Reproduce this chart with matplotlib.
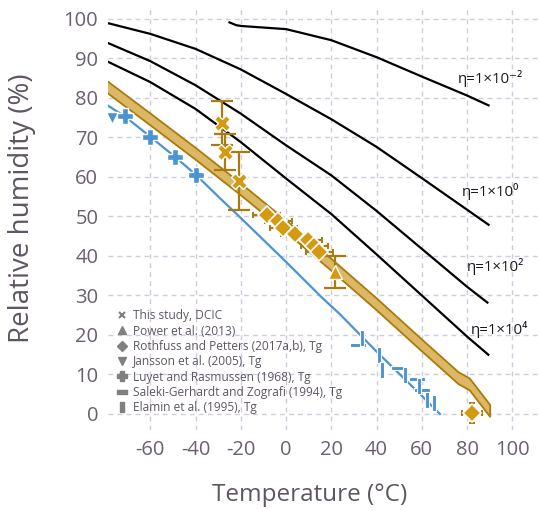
import numpy as np
import matplotlib.pyplot as plt
from matplotlib.lines import Line2D

plt.rcParams['font.family'] = ['Open Sans', 'DejaVu Sans']
plt.rcParams['axes.unicode_minus'] = False

# viscosity isopleths (black lines)
eta_m2_T = [-25, -22, -20, 0, 20, 40, 60, 80, 89.5]
eta_m2_RH = [99.1, 98.4, 98.2, 97.4, 94.6, 90.3, 85.4, 80.6, 78.1]
eta_0_T = [-80, -60, -40, -20, 0, 20, 40, 60, 80, 89.5]
eta_0_RH = [99.1, 96.2, 92.4, 87.2, 81.0, 74.6, 67.6, 59.7, 51.7, 47.9]
eta_2_T = [-80, -60, -40, -20, 0, 20, 40, 60, 80, 89]
eta_2_RH = [94.2, 89.3, 83.2, 76.0, 68.0, 60.4, 51.4, 41.8, 32.2, 28.2]
eta_4_T = [-80, -60, -40, -20, 0, 20, 40, 60, 80, 89.4]
eta_4_RH = [89.5, 84.0, 77.2, 68.8, 59.6, 50.6, 40.4, 30.0, 19.6, 15.0]

# glass transition band (centre line)
band_T = [-80, -60, -40, -20, 0, 20, 40, 60, 76, 81, 90]
band_RH = [83.2, 74.6, 65.9, 56.9, 47.5, 37.8, 27.8, 17.4, 9.2, 7.6, 0.9]
band_half = 1.5

# literature Tg line (blue)
blue_T = [-80, -71.2, -60.1, -49.1, -39.8, -29.2, -20, 0, 15.8, 23.9, 40, 60, 68]
blue_RH = [78.5, 75.3, 70.2, 65.1, 60.5, 54.6, 49.6, 38.5, 29.5, 25.2, 15.8, 4.6, 0.0]

# data sets
dcic_T = [-28.4, -27.0, -21.0]
dcic_RH = [73.6, 66.3, 59.0]
dcic_err = [5.5, 4.5, 7.4]

power_T = [21.8]
power_RH = [36.0]
power_err = [4.0]

rp_T = [-8.5, -3.5, -1.2, 3.8, 9.9, 12.5, 14.7, 82.2]
rp_RH = [50.4, 48.9, 47.1, 45.6, 44.0, 42.6, 41.1, 0.3]
rp_xerr = [6, 6, 6, 6, 6, 6, 6, 4.5]
rp_yerr = [1.5, 1.5, 1.5, 1.5, 1.5, 1.5, 1.5, 2.5]

jansson_T = [-76.9]
jansson_RH = [74.9]

luyet_T = [-71.2, -60.1, -49.1, -39.8]
luyet_RH = [75.3, 70.2, 65.1, 60.5]

saleki_T = [32.0, 49.7, 57.8, 60.0]
saleki_RH = [17.5, 11.7, 8.9, 6.1]

elamin_T = [33.5, 40.9, 42.4, 52.7, 58.8, 62.3, 65.6]
elamin_RH = [19.2, 14.9, 11.1, 9.9, 7.0, 3.5, 2.7]

eta_labels = ['η=1×10⁻²', 'η=1×10⁰', 'η=1×10²', 'η=1×10⁴']
eta_label_T = [76.0, 77.8, 80.0, 81.8]
eta_label_RH = [85.0, 56.3, 37.3, 21.3]

legend_labels = ['This study, DCIC', 'Power et al. (2013)',
                 'Rothfuss and Petters (2017a,b), Tg', 'Jansson et al. (2005), Tg',
                 'Luyet and Rasmussen (1968), Tg', 'Saleki-Gerhardt and Zografi (1994), Tg',
                 'Elamin et al. (1995), Tg']

gold = '#d49a12'
gold_dark = '#a97a0c'
blue = '#4a94d4'
txt = '#5f5663'

hbar = [(-1, -0.32), (1, -0.32), (1, 0.32), (-1, 0.32), (-1, -0.32)]
vbar = [(-0.32, -1), (0.32, -1), (0.32, 1), (-0.32, 1), (-0.32, -1)]

fig = plt.figure(figsize=(5.39, 5.11), dpi=100)
ax = fig.add_axes([108/539, 81/511, 431/539, 423/511])
ax.set_xlim(-78.7, 111.8)
ax.set_ylim(-4.05, 103)

for s in ax.spines.values():
    s.set_visible(False)
ax.set_xticks(np.arange(-60, 101, 20))
ax.set_yticks(np.arange(0, 101, 10))
ax.tick_params(length=0, labelsize=14.5, labelcolor='#6a6070', pad=7)
ax.grid(True, color='#cfcce0', linestyle=(0, (3.5, 3)), linewidth=1)
ax.set_axisbelow(True)

for T, RH in [(eta_m2_T, eta_m2_RH), (eta_0_T, eta_0_RH), (eta_2_T, eta_2_RH), (eta_4_T, eta_4_RH)]:
    ax.plot(T, RH, color='black', lw=1.6, zorder=2, solid_joinstyle='round')
for lab, x, y in zip(eta_labels, eta_label_T, eta_label_RH):
    ax.text(x, y, lab, fontsize=10.8, color='#1a1a1a', va='center', ha='left')

bc = np.array(band_RH)
ax.fill_between(band_T, bc - band_half, bc + band_half, facecolor='#dcb865',
                edgecolor=gold_dark, lw=1.3, zorder=3)

ax.plot(blue_T, blue_RH, color=blue, lw=1.6, zorder=3)
ax.plot(jansson_T, jansson_RH, 'v', color=blue, ms=9, mec='white', mew=1, zorder=4)
ax.plot(luyet_T, luyet_RH, 'P', color=blue, ms=12, mec='white', mew=1, zorder=4)
ax.plot(saleki_T, saleki_RH, marker=hbar, ls='none', color=blue, ms=11, mec='white', mew=0.8, zorder=4)
ax.plot(elamin_T, elamin_RH, marker=vbar, ls='none', color=blue, ms=11, mec='white', mew=0.8, zorder=4)

ax.errorbar(dcic_T, dcic_RH, yerr=dcic_err, fmt='none', ecolor=gold_dark, elinewidth=1.6,
            capsize=8, capthick=1.6, zorder=5)
ax.plot(dcic_T, dcic_RH, 'X', color=gold, ms=12, mec='white', mew=1, zorder=6)

ax.errorbar(power_T, power_RH, yerr=power_err, fmt='none', ecolor=gold_dark, elinewidth=1.6,
            capsize=8, capthick=1.6, zorder=5)
ax.plot(power_T, power_RH, '^', color=gold, ms=10, mec='white', mew=1, zorder=6)

ax.errorbar(rp_T, rp_RH, xerr=rp_xerr, yerr=rp_yerr, fmt='none', ecolor=gold_dark,
            elinewidth=1.6, capsize=2.5, capthick=1.4, zorder=5)
ax.plot(rp_T, rp_RH, 'D', color=gold, ms=9, mec='white', mew=1.2, zorder=6)

grey = '#808080'
handles = [Line2D([], [], ls='none', marker='x', color=grey, ms=5, mew=1.5),
           Line2D([], [], ls='none', marker='^', color=grey, ms=5.5),
           Line2D([], [], ls='none', marker='D', color=grey, ms=5),
           Line2D([], [], ls='none', marker='v', color=grey, ms=5.5),
           Line2D([], [], ls='none', marker='P', color=grey, ms=7),
           Line2D([], [], ls='none', marker=hbar, color=grey, ms=7),
           Line2D([], [], ls='none', marker=vbar, color=grey, ms=7)]
ax.legend(handles, legend_labels, loc='lower left', bbox_to_anchor=(0.0, 0.017),
          frameon=False, fontsize=8.6, labelcolor=txt, handlelength=1.0,
          handletextpad=0.4, labelspacing=0.2, borderaxespad=0.3)

fig.text(22/539, 1 - 208/511, 'Relative humidity (%)', rotation=90, ha='center',
         va='center', fontsize=20, color=txt)
fig.text(310/539, 1 - 495/511, 'Temperature (°C)', ha='center', va='center',
         fontsize=17.5, color=txt)

fig.savefig('out.png', dpi=100)
